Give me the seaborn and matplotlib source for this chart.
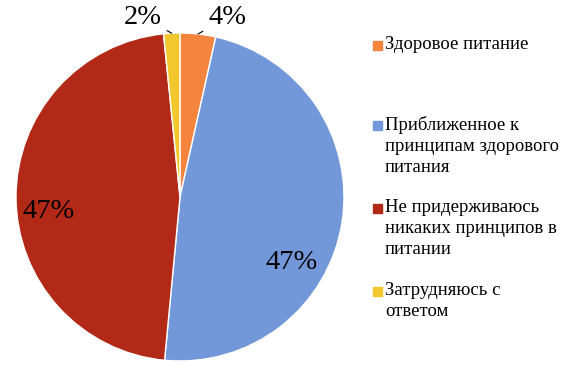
import numpy as np
import matplotlib
matplotlib.use("Agg")
import matplotlib.pyplot as plt
import seaborn as sns

# --- данные ---
categories = ["Здоровое питание",
              "Приближенное к\nпринципам здорового\nпитания",
              "Не придерживаюсь\nникаких принципов в\nпитании",
              "Затрудняюсь с\nответом"]
values = [3.5, 48.0, 46.9, 1.6]
pct_labels = ["4%", "47%", "47%", "2%"]
colors = ["#F5843F", "#7398D9", "#B22A17", "#F3C82E"]

sns.set_theme(style="white")
plt.rcParams["font.family"] = "serif"
plt.rcParams["font.serif"] = ["Liberation Serif", "DejaVu Serif"]
plt.rcParams["text.color"] = "black"

W, H = 567, 372
fig = plt.figure(figsize=(W / 100, H / 100), dpi=100)

# pie area: center (180,197), radius 164 px
cx, cy, r = 180, 197, 164
ax = fig.add_axes([(cx - r) / W, (H - cy - r) / H, 2 * r / W, 2 * r / H])
wedges, _ = ax.pie(values, colors=colors, startangle=90, counterclock=False,
                   radius=1, wedgeprops=dict(edgecolor="white", linewidth=1))
ax.set_xlim(-1, 1)
ax.set_ylim(-1, 1)
ax.set_aspect("equal")
ax.axis("off")

# подписи процентов (позиции в долях радиуса)
label_pos = [(0.29, 1.095), (0.68, -0.40), (-0.80, -0.09), (-0.23, 1.095)]
for i, (w, txt) in enumerate(zip(wedges, pct_labels)):
    x, y = label_pos[i]
    if i in (0, 3):
        mid = np.deg2rad((w.theta1 + w.theta2) / 2)
        tx, ty = np.cos(mid) * 1.0, np.sin(mid) * 1.0
        ax.annotate(txt, xy=(tx, ty), xytext=(x, y), ha="center", va="center",
                    fontsize=20.5, color="black", annotation_clip=False,
                    arrowprops=dict(arrowstyle="-", color="black", lw=0.8,
                                    shrinkA=2, shrinkB=0))
    else:
        ax.text(x, y, txt, ha="center", va="center", fontsize=20.5, color="black")

# легенда справа
leg_tops = [45, 125, 208, 291]
for lab, col, ytop in zip(categories, colors, leg_tops):
    fig.patches.append(plt.Rectangle((373 / W, (H - ytop - 4.5) / H), 9 / W, 9 / H,
                                     transform=fig.transFigure, color=col))
    fig.text(385 / W, (H - ytop + 9) / H, lab, fontsize=13.5, va="top",
             ha="left", linespacing=1.3, color="black")

fig.savefig("out.png", dpi=100)
